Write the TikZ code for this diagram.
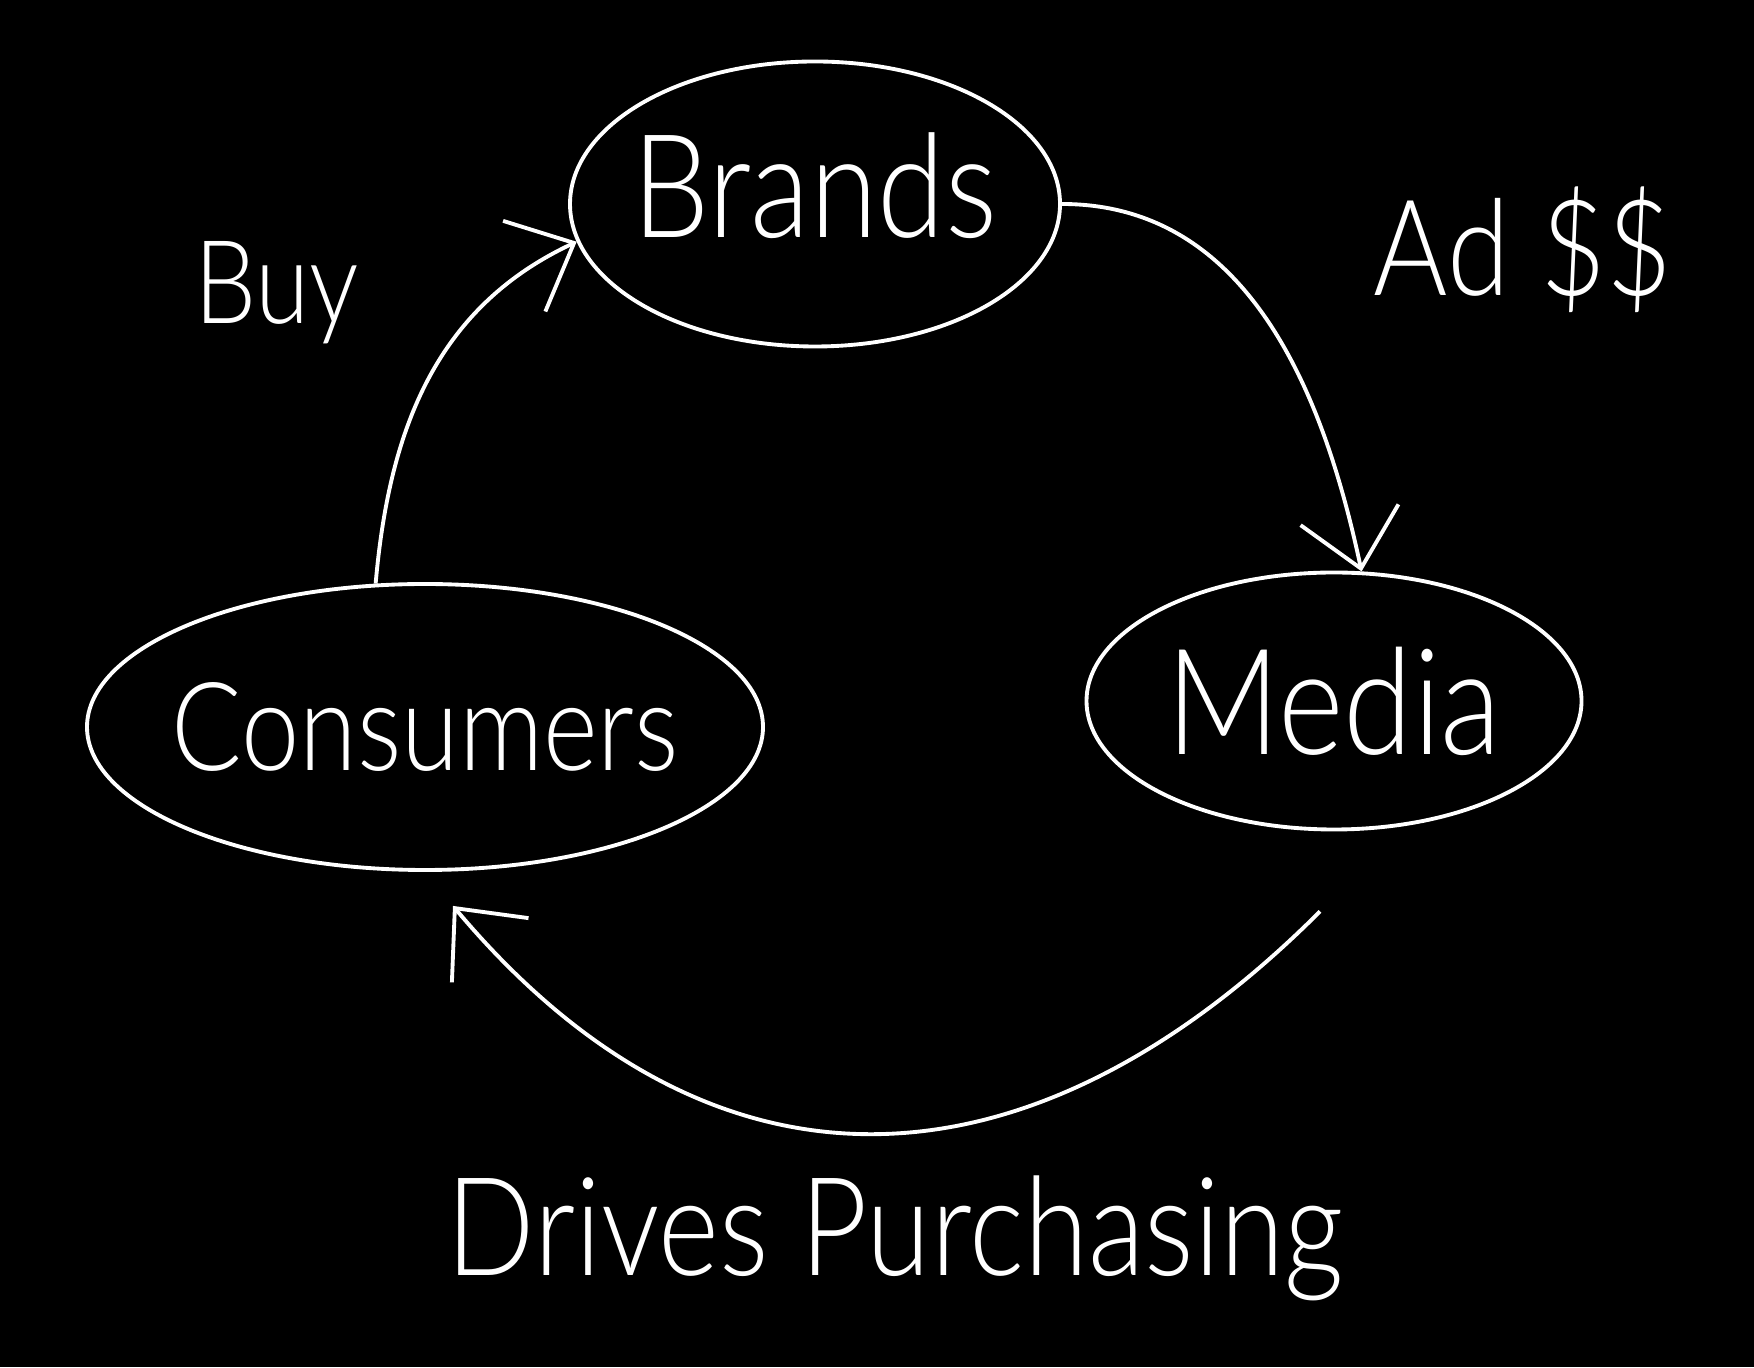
\documentclass[tikz,border=0pt]{standalone}
\usepackage{fontspec}
\usepackage{tikz}
\usetikzlibrary{arrows.meta, shapes.geometric, calc}
\newfontfamily\handfont{Lato Light}[FakeStretch=0.85]
\newcommand{\fsz}[1]{\handfont\fontsize{#1}{#1}\selectfont}
\tikzset{
  blob/.style={ellipse, draw=white, line width=1.1pt, inner sep=-3mm, text=white},
  lbl/.style={text=white, anchor=base, inner sep=0pt},
  flow/.style={-{Straight Barb[length=5.5mm, width=10mm]}, draw=white, line width=1.1pt},
}

\begin{document}
\begin{tikzpicture}[x=0.1mm, y=0.1mm]
  \fill[black] (0,0) rectangle (1754,1367);
  % ---- the three players
  \node[blob, minimum width=49mm, minimum height=28.5mm, text depth=3.8mm, font=\fsz{41pt}] (brands) at (815,1163) {Brands};
  \node[blob, minimum width=49.5mm, minimum height=25.7mm, font=\fsz{42pt}] (media) at (1334,666) {Media};
  \node[blob, minimum width=67.6mm, minimum height=28.6mm, font=\fsz{35pt}] (cons) at (425,640) {Consumers};
  % ---- money and attention going round
  \draw[flow] (cons.109) to[out=85, in=205] (brands.189);
  \draw[flow] (brands.0) to[out=0, in=102] (media.78);
  \draw[flow] ([xshift=-1.4mm, yshift=-8mm]media.south) to[out=225, in=-50, looseness=1.2]
    ([xshift=2.8mm, yshift=-3.4mm]cons.south);
  % ---- labels on the arrows
  \node[lbl, font=\fsz{33pt}] (buy) at (277,1043) {Buy};
  \node[lbl, font=\fsz{38pt}] (ads) at (1523,1071) {Ad \$\$};
  \node[lbl, font=\fsz{39pt}] (drives) at (895,92) {Drives Purchasing};
\end{tikzpicture}
\end{document}
